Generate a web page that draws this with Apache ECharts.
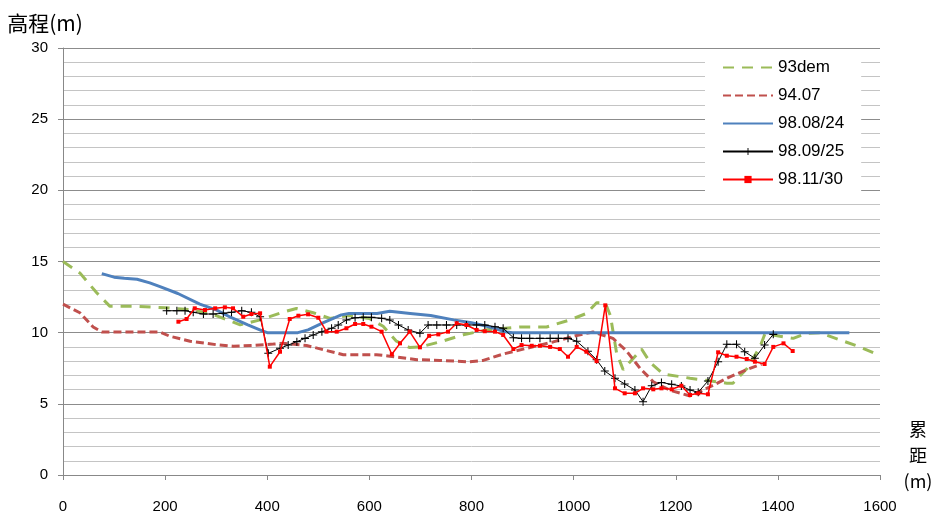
<!DOCTYPE html>
<html>
<head>
<meta charset="utf-8">
<script src="https://cdn.jsdelivr.net/npm/echarts@6/dist/echarts.min.js"></script>
<style>
html,body{margin:0;padding:0;background:#fff;}
#chart{width:935px;height:516px;}
</style>
</head>
<body>
<div id="chart"></div>
<script>
// ---- data ----
var seriesNames = ['93dem', '94.07', '98.08/24', '98.09/25', '98.11/30'];
var xTicks = [0, 200, 400, 600, 800, 1000, 1200, 1400, 1600];
var yTicks = [0, 5, 10, 15, 20, 25, 30];

var dem93 = [[0,15.0],[33,14.2],[66,12.8],[92,11.85],[144,11.85],[200,11.75],[255,11.6],[300,11.2],[347,10.55],[386,10.9],[431,11.45],[457,11.7],[490,11.4],[523,11.0],[560,11.2],[600,11.0],[627,10.45],[653,9.4],[679,8.95],[700,9.0],[738,9.35],[784,9.85],[830,10.2],[895,10.4],[947,10.4],[993,10.9],[1025,11.35],[1045,12.1],[1062,12.1],[1072,11.2],[1084,8.6],[1097,7.4],[1117,8.2],[1133,8.85],[1150,7.9],[1175,7.1],[1228,6.8],[1260,6.65],[1300,6.45],[1312,6.45],[1340,7.5],[1365,9.0],[1375,9.95],[1404,9.75],[1430,9.6],[1456,9.95],[1482,10.0],[1521,9.5],[1560,9.0],[1600,8.4]];

var s9407 = [[0,12.0],[33,11.4],[59,10.4],[76,10.05],[190,10.05],[209,9.75],[249,9.4],[281,9.25],[301,9.15],[333,9.05],[373,9.1],[412,9.2],[431,9.25],[477,9.1],[510,8.8],[549,8.45],[614,8.45],[640,8.35],[693,8.1],[738,8.05],[797,7.95],[823,8.05],[862,8.5],[908,8.9],[960,9.35],[1006,9.8],[1038,10.05],[1077,9.6],[1104,8.7],[1130,7.5],[1156,6.55],[1189,5.95],[1228,5.55],[1273,6.3],[1306,6.9],[1339,7.4],[1368,7.8]];

var s980824 = [[76,14.15],[100,13.9],[120,13.82],[145,13.75],[170,13.5],[190,13.23],[225,12.75],[268,12.0],[300,11.6],[330,11.05],[362,10.55],[389,10.15],[400,10.0],[460,10.0],[480,10.2],[510,10.7],[545,11.25],[560,11.35],[615,11.35],[640,11.5],[680,11.35],[720,11.2],[765,10.9],[800,10.7],[830,10.45],[869,10.05],[880,10.0],[1540,10.0]];

var s980925 = [[203,11.54],[223,11.54],[239,11.54],[255,11.43],[275,11.31],[294,11.31],[314,11.36],[330,11.43],[350,11.54],[369,11.43],[386,11.12],[402,8.55],[425,8.9],[441,9.13],[458,9.37],[474,9.6],[490,9.84],[507,10.07],[526,10.31],[539,10.54],[555,10.89],[572,11.05],[588,11.08],[604,11.08],[624,11.01],[640,10.89],[657,10.54],[676,10.19],[699,9.96],[715,10.54],[732,10.54],[751,10.54],[771,10.54],[790,10.54],[810,10.54],[826,10.54],[846,10.42],[862,10.31],[882,9.65],[898,9.6],[914,9.6],[934,9.6],[954,9.6],[970,9.6],[989,9.6],[1006,9.4],[1028,8.7],[1045,8.1],[1061,7.3],[1081,6.8],[1100,6.4],[1120,5.97],[1136,5.15],[1153,6.27],[1172,6.5],[1192,6.37],[1211,6.25],[1228,5.97],[1244,5.81],[1263,6.6],[1283,7.96],[1300,9.18],[1319,9.18],[1335,8.66],[1355,8.2],[1374,9.13],[1391,9.88]];

var s981130 = [[226,10.77],[242,10.96],[258,11.71],[278,11.59],[298,11.71],[317,11.78],[333,11.71],[353,11.12],[369,11.31],[386,11.36],[405,7.61],[425,8.66],[444,10.96],[461,11.19],[480,11.29],[500,11.05],[516,10.07],[536,10.07],[555,10.31],[572,10.61],[588,10.61],[604,10.42],[624,10.07],[644,8.48],[660,9.25],[679,10.07],[699,8.97],[717,9.78],[735,9.88],[754,10.07],[771,10.66],[790,10.54],[810,10.19],[826,10.1],[846,10.07],[862,9.84],[882,8.85],[898,9.13],[918,9.08],[934,9.08],[954,9.0],[973,8.85],[989,8.31],[1006,9.0],[1025,8.66],[1045,8.0],[1062,11.92],[1081,6.09],[1100,5.74],[1120,5.74],[1136,6.09],[1156,6.02],[1172,6.09],[1192,6.02],[1211,6.27],[1228,5.62],[1244,5.74],[1263,5.67],[1283,8.62],[1300,8.38],[1319,8.31],[1339,8.15],[1355,7.96],[1374,7.8],[1391,9.0],[1411,9.25],[1429,8.71]];

// ---- chart ----
var FONT = '"Liberation Sans", "Noto Sans CJK TC", sans-serif';
var CJK = '"Noto Sans CJK TC", "Liberation Sans", sans-serif';
var plusPath = 'path://M-0.13,-1H0.13V-0.13H1V0.13H0.13V1H-0.13V0.13H-1V-0.13H-0.13Z';

var chart = echarts.init(document.getElementById('chart'), null, {renderer: 'canvas'});
chart.setOption({
  animation: false,
  backgroundColor: '#fff',
  textStyle: {fontFamily: FONT},
  grid: {left: 63, right: 55, top: 48, bottom: 41, containLabel: false, outerBoundsMode: 'none'},
  legend: {
    orient: 'vertical',
    left: 705, top: 51,
    backgroundColor: '#fff',
    padding: [8, 17, 14, 17],
    itemWidth: 50, itemHeight: 9, itemGap: 11,
    textStyle: {fontSize: 17, color: '#000', fontFamily: FONT},
    data: [
      {name: seriesNames[0], itemStyle: {opacity: 0}},
      {name: seriesNames[1], itemStyle: {opacity: 0}},
      {name: seriesNames[2], itemStyle: {opacity: 0}},
      {name: seriesNames[3]},
      {name: seriesNames[4]}
    ]
  },
  xAxis: {
    type: 'value', min: xTicks[0], max: xTicks[xTicks.length-1], interval: 200,
    name: '{n|累}\n{n|距}\n{n|(m)}\n{g| }', nameLocation: 'end', nameGap: 38,
    nameTextStyle: {
      fontFamily: CJK, fontSize: 18, color: '#000', align: 'center', verticalAlign: 'middle',
      rich: {
        n: {fontFamily: CJK, fontSize: 18, color: '#000', lineHeight: 26},
        g: {fontSize: 10, lineHeight: 40}
      }
    },
    axisLine: {lineStyle: {color: '#888', width: 1}},
    axisTick: {show: true, length: 5, lineStyle: {color: '#888'}},
    axisLabel: {fontSize: 15, color: '#000', margin: 24, fontFamily: FONT, formatter: function (v) { return String(v); }},
    splitLine: {show: false}
  },
  yAxis: {
    type: 'value', min: yTicks[0], max: yTicks[yTicks.length-1], interval: 5,
    name: '高程(m)', nameLocation: 'end', nameGap: 14,
    nameTextStyle: {fontFamily: CJK, fontSize: 21, color: '#000', align: 'center', padding: [0, 36, 0, 0]},
    axisLine: {show: true, lineStyle: {color: '#888', width: 1}},
    axisTick: {show: true, length: 5, lineStyle: {color: '#888'}},
    axisLabel: {fontSize: 15, color: '#000', margin: 15, fontFamily: FONT, formatter: function (v) { return String(v); }},
    splitLine: {show: true, lineStyle: {color: '#8c8c8c', width: 1}},
    minorTick: {show: false, splitNumber: 5},
    minorSplitLine: {show: true, lineStyle: {color: '#c4c4c4', width: 1}}
  },
  series: [
    {name: seriesNames[0], type: 'line', data: dem93, symbol: 'none', z: 2,
     lineStyle: {color: '#9BBB59', width: 3, type: [11, 8]}, itemStyle: {color: '#9BBB59'}},
    {name: seriesNames[1], type: 'line', data: s9407, symbol: 'none', z: 3,
     lineStyle: {color: '#C0504D', width: 3, type: [8, 4]}, itemStyle: {color: '#C0504D'}},
    {name: seriesNames[2], type: 'line', data: s980824, symbol: 'none', z: 4,
     lineStyle: {color: '#4F81BD', width: 3}, itemStyle: {color: '#4F81BD'}},
    {name: seriesNames[3], type: 'line', data: s980925, symbol: plusPath, symbolSize: 8, z: 5,
     lineStyle: {color: '#000', width: 1}, itemStyle: {color: '#000'}},
    {name: seriesNames[4], type: 'line', data: s981130, symbol: 'rect', symbolSize: 4, z: 6,
     lineStyle: {color: '#FF0000', width: 1.5}, itemStyle: {color: '#FF0000'}}
  ]
});
</script>
</body>
</html>
